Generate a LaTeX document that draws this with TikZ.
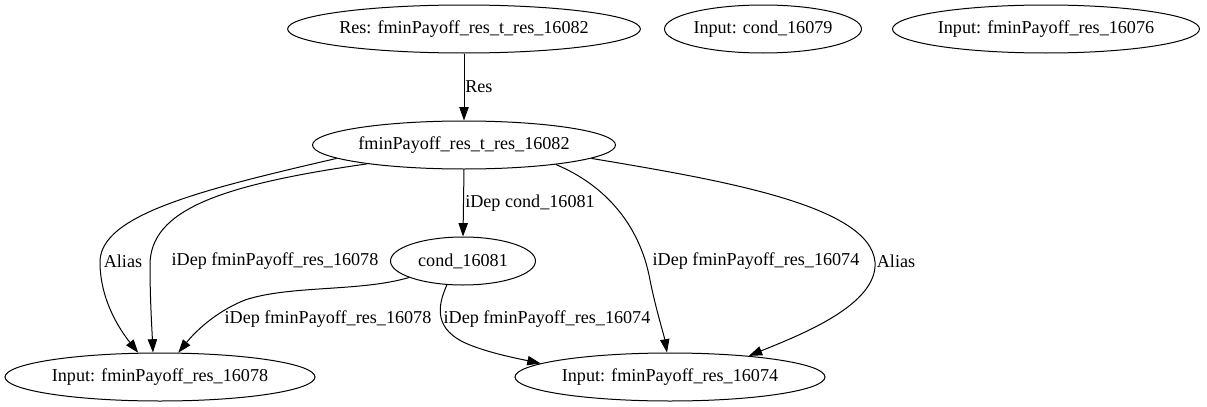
\documentclass[tikz,border=0pt]{standalone}
\usepackage{fontspec}
\setmainfont{Liberation Serif}
\usetikzlibrary{shapes.geometric,arrows.meta}
\begin{document}
\begin{tikzpicture}[x=0.75pt,y=-0.75pt,
  gnode/.style={draw,ellipse,line width=0.75pt,inner sep=0pt,minimum height=36pt,font=\fontsize{13.6pt}{16pt}\selectfont},
  lbl/.style={inner sep=0pt,font=\fontsize{13.6pt}{16pt}\selectfont},
  edge/.style={draw,line width=0.75pt,-{Triangle[length=10pt,width=7pt]}}]
\useasboundingbox (0,0) rectangle (1207,407);
\node[gnode,minimum width=264pt] (top) at (464,29) {Res: fminPayoff\_res\_t\_res\_16082};
\node[gnode,minimum width=147.75pt] (c79) at (763,29) {Input: cond\_16079};
\node[gnode,minimum width=230.25pt] (c76) at (1046,29) {Input: fminPayoff\_res\_16076};
\node[gnode,minimum width=227.25pt] (mid) at (464,145) {fminPayoff\_res\_t\_res\_16082};
\node[gnode,minimum width=108.75pt] (cond) at (463,261) {cond\_16081};
\node[gnode,minimum width=232.5pt] (in78) at (160,377) {Input: fminPayoff\_res\_16078};
\node[gnode,minimum width=232.5pt] (in74) at (670,377) {Input: fminPayoff\_res\_16074};

\draw[edge] (top.south) -- (mid.north);
\node[lbl,anchor=west] (l1) at (465,87) {Res};
\draw[edge] (mid.south) -- (cond.north);
\node[lbl,anchor=west] (l2) at (465,203) {iDep cond\_16081};

\draw[edge] (mid.186) .. controls (200,190) and (100,215) .. (100,262)
  .. controls (100,300) and (120,330) .. (in78.132);
\node[lbl] (l3) at (123,261) {Alias};
\draw[edge] (mid.191) .. controls (220,185) and (150,210) .. (150,265)
  .. controls (150,300) and (152,330) .. (in78.106);
\node[lbl] (l4) at (275,261) {iDep fminPayoff\_res\_16078};
\draw[edge] (cond.197) .. controls (360,292) and (290,285) .. (245,300)
  .. controls (215,312) and (195,332) .. (in78.53);
\node[lbl] (l5) at (328,319) {iDep fminPayoff\_res\_16078};
\draw[edge] (cond.236) .. controls (438,305) and (432,330) .. (470,345)
  .. controls (490,353) and (515,358) .. (in74.174);
\node[lbl] (l6) at (547,319) {iDep fminPayoff\_res\_16074};
\draw[edge] (mid.348) .. controls (605,185) and (640,225) .. (650,280)
  .. controls (656,310) and (664,335) .. (in74.97);
\node[lbl] (l7) at (756,261) {iDep fminPayoff\_res\_16074};
\draw[edge] (mid.354) .. controls (720,180) and (870,205) .. (875,262)
  .. controls (878,305) and (800,335) .. (in74.15);
\node[lbl] (l8) at (896,261) {Alias};
\end{tikzpicture}
\end{document}
